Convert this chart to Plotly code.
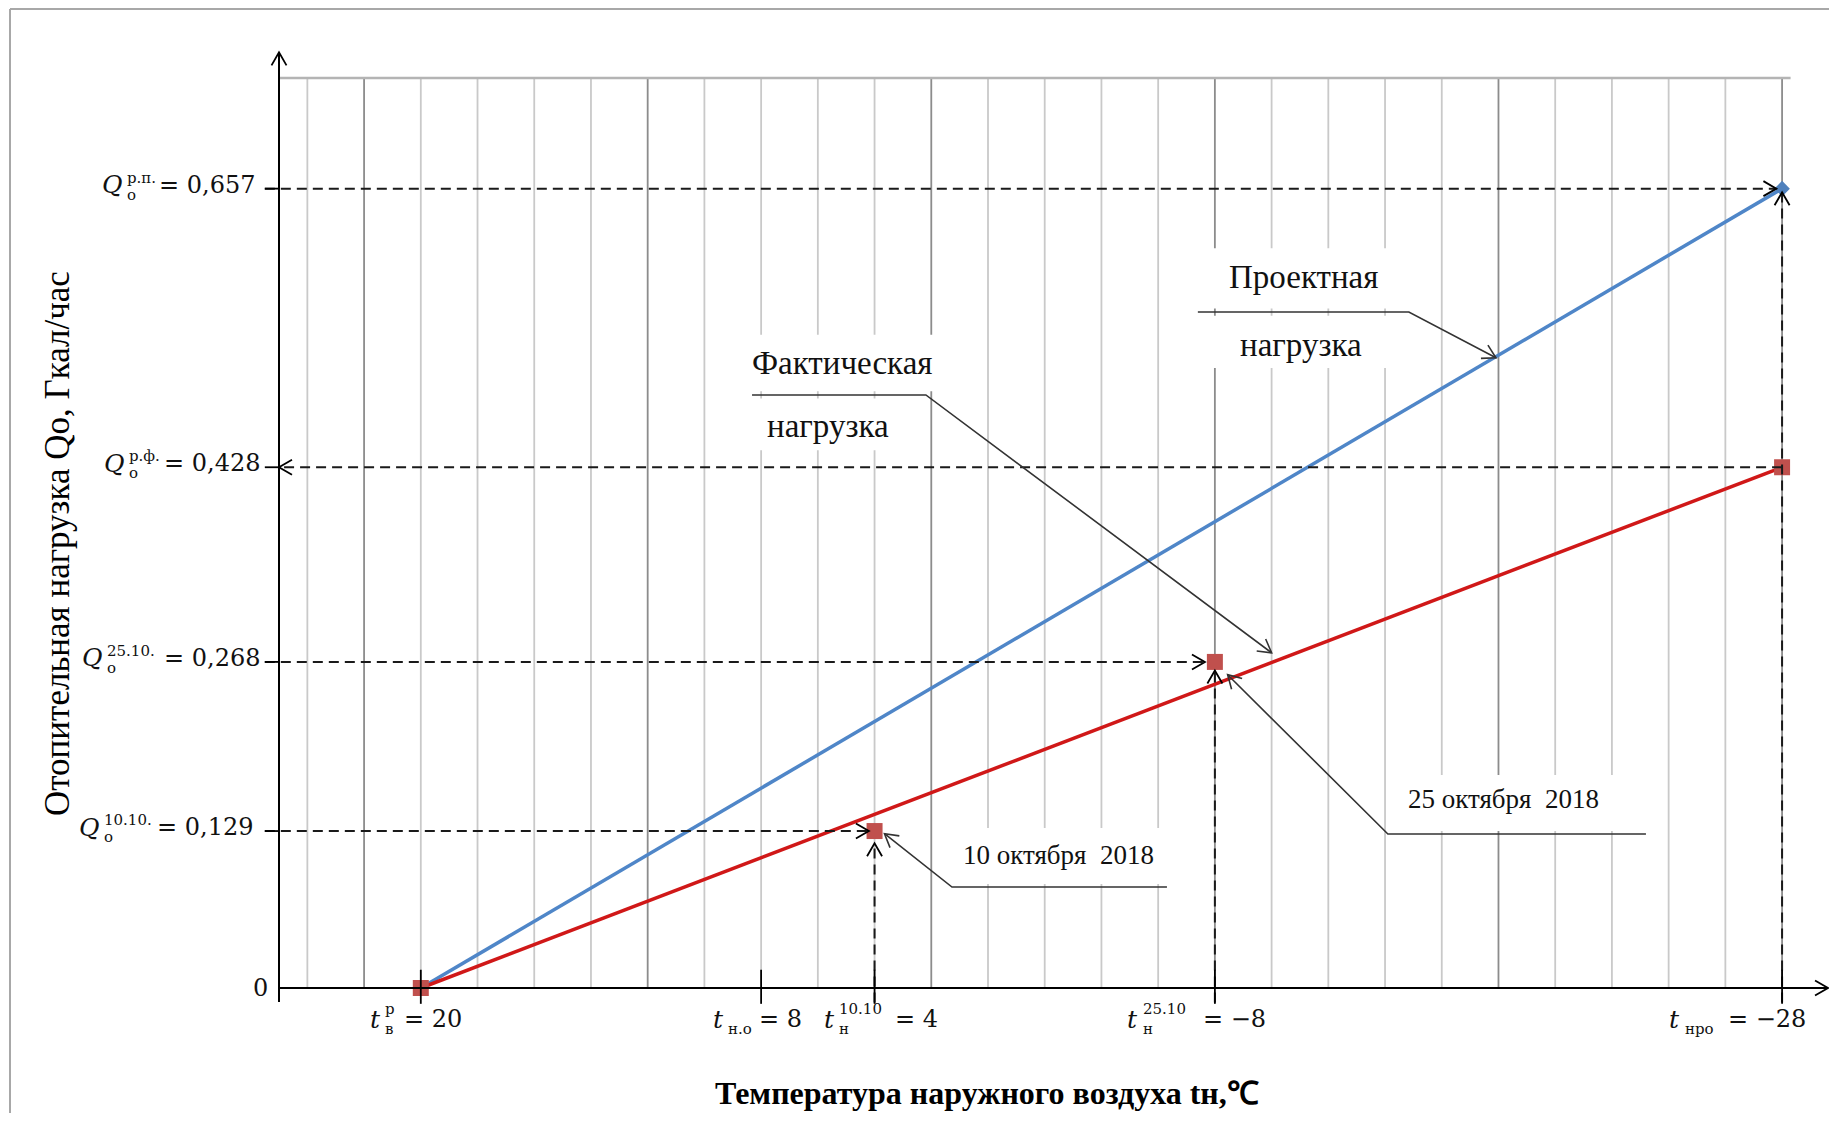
import math
import plotly.graph_objects as go

# ---------------- data ----------------
t_line = [20, -28]                      # outdoor temperature, line ends
q_project_line = [0, 0.657]             # design (project) load
q_fact_line = [0, 0.428]                # actual load

t_points = [20, 4, -8, -28]             # measured points
q_fact_points = [0, 0.129, 0.268, 0.428]
t_project_point = [-28]
q_project_point = [0.657]

x_tick_vals = [20, 8, 4, -8, -28]
x_tick_sup = ["р", "", "10.10", "25.10", ""]
x_tick_sub = ["в", "н.о", "н", "н", "нро"]
x_tick_rest = ["= 20", "= 8", "= 4", "= −8", "= −28"]

y_tick_vals = [0.657, 0.428, 0.268, 0.129]
y_tick_sup = ["р.п.", "р.ф.", "25.10.", "10.10."]
y_tick_rest = ["= 0,657", "= 0,428", "= 0,268", "= 0,129"]

grid_x = list(range(24, -30, -2))
grid_top = 0.748

# ---------------- geometry ----------------
PAGE_OFF = 8                      # default body margin of the html page
W, H = 1837 - 2 * PAGE_OFF, 1121 - 2 * PAGE_OFF
KX, KY = 28.36, 1216.7            # px per degree / px per Gcal/h
X_RANGE = [25 + (279 - PAGE_OFF) / KX, 0]
X_RANGE[1] = X_RANGE[0] - W / KX
Y_RANGE = [0, (988 - PAGE_OFF) / KY]
Y_RANGE[0] = Y_RANGE[1] - H / KY
X_AX = 25          # position of the drawn y axis
X_END = -29.62     # x-axis arrow tip
Y_END = 0.769      # y-axis arrow tip

MATH = "DejaVu Serif"
SERIF = "Liberation Serif"

def to_px(x, y):
    return (X_RANGE[0] - x) * KX, (Y_RANGE[1] - y) * KY

def from_px(px, py):
    return X_RANGE[0] - px / KX, Y_RANGE[1] - py / KY

shapes = []
annotations = []

def line(x0, y0, x1, y1, color="#000", width=2, dash=None, layer="above"):
    d = dict(type="line", x0=x0, y0=y0, x1=x1, y1=y1, xref="x", yref="y",
             line=dict(color=color, width=width), layer=layer)
    if dash:
        d["line"]["dash"] = dash
    shapes.append(d)

def polyline(pts, color="#333", width=1.6):
    path = "M " + " L ".join(f"{x},{y}" for x, y in pts)
    shapes.append(dict(type="path", path=path, xref="x", yref="y",
                       line=dict(color=color, width=width), layer="above"))

def arrowhead(tip, frm, length=15, half=30, color="#000", width=1.8):
    tx, ty = to_px(*tip)
    fx, fy = to_px(*frm)
    dx, dy = tx - fx, ty - fy
    n = math.hypot(dx, dy)
    dx, dy = dx / n, dy / n
    pts = []
    for s in (1, -1):
        a = math.radians(half) * s
        rx = dx * math.cos(a) - dy * math.sin(a)
        ry = dx * math.sin(a) + dy * math.cos(a)
        pts.append(from_px(tx - length * rx, ty - length * ry))
    path = (f"M {pts[0][0]},{pts[0][1]} L {tip[0]},{tip[1]} "
            f"L {pts[1][0]},{pts[1][1]}")
    shapes.append(dict(type="path", path=path, xref="x", yref="y",
                       line=dict(color=color, width=width), layer="above"))

def rect(x0, y0, x1, y1):
    shapes.append(dict(type="rect", x0=x0, y0=y0, x1=x1, y1=y1, xref="x", yref="y",
                       fillcolor="white", line=dict(width=0), layer="below"))

def text(x, y, s, size, family=SERIF, xanchor="center", xshift=0, yshift=0,
         angle=0, color="#111", yref="y", yanchor="middle"):
    annotations.append(dict(x=x, y=y, xref="x", yref=yref, text=s, showarrow=False,
                            font=dict(family=family, size=size, color=color),
                            xanchor=xanchor, yanchor=yanchor, xshift=xshift,
                            yshift=yshift, textangle=angle))

# ---------------- outer frame ----------------
shapes.append(dict(type="line", xref="paper", yref="paper", x0=2 / W, x1=2 / W,
                   y0=-0.01, y1=1 - 1 / H, line=dict(color="#a8a8a8", width=2)))
shapes.append(dict(type="line", xref="paper", yref="paper", x0=2 / W, x1=1.01,
                   y0=1 - 1 / H, y1=1 - 1 / H, line=dict(color="#a8a8a8", width=2)))

# ---------------- grid ----------------
for gx in grid_x:
    major = (gx - 2) % 10 == 0
    line(gx, 0, gx, grid_top, color="#8c8c8c" if major else "#c9c9c9",
         width=1.8, layer="below")
line(X_AX, grid_top, -28.3, grid_top, color="#b4b4b4", width=2.5, layer="below")

# white boxes behind the captions
rect(-7.3, 0.5585, -14.5, 0.608)
rect(-7.3, 0.5096, -14.5, 0.5525)
rect(8.6, 0.4905, 1.7, 0.537)
rect(8.6, 0.442, 3.1, 0.4845)
rect(-14.35, 0.129, -23.0, 0.175)
rect(1.5, 0.0855, -6.4, 0.1315)

# ---------------- dashed guide lines ----------------
DASH = "10px,6px"
DC = "#1a1a1a"
line(25.5, q_project_line[1], t_line[1] + 0.2, q_project_line[1], color=DC, dash=DASH)
arrowhead((t_line[1] + 0.2, q_project_line[1]), (0, q_project_line[1]))
line(t_line[1], -0.012, t_line[1], q_project_line[1] - 0.003, color=DC, dash=DASH)
arrowhead((t_line[1], q_project_line[1] - 0.003), (t_line[1], 0))

line(t_points[3], q_fact_points[3], X_AX, q_fact_points[3], color=DC, dash=DASH)
arrowhead((X_AX, q_fact_points[3]), (0, q_fact_points[3]))

line(25.5, q_fact_points[2], t_points[2] + 0.35, q_fact_points[2], color=DC, dash=DASH)
arrowhead((t_points[2] + 0.35, q_fact_points[2]), (X_AX, q_fact_points[2]))
line(t_points[2], -0.012, t_points[2], q_fact_points[2] - 0.007, color=DC, dash=DASH)
arrowhead((t_points[2], q_fact_points[2] - 0.007), (t_points[2], 0))

line(25.5, q_fact_points[1], t_points[1] + 0.2, q_fact_points[1], color=DC, dash=DASH)
arrowhead((t_points[1] + 0.2, q_fact_points[1]), (X_AX, q_fact_points[1]))
line(t_points[1], -0.012, t_points[1], q_fact_points[1] - 0.01, color=DC, dash=DASH)
arrowhead((t_points[1], q_fact_points[1] - 0.01), (t_points[1], 0))

# ---------------- axes ----------------
line(X_AX, -0.0115, X_AX, Y_END, width=2)
arrowhead((X_AX, Y_END), (X_AX, 0))
line(X_AX, 0, X_END, 0, width=2)
arrowhead((X_END, 0), (0, 0))
for v in y_tick_vals:
    line(25.5, v, X_AX, v, width=1.8)
for v in x_tick_vals:
    line(v, 0.015, v, -0.013, width=1.8)

# ---------------- leader lines ----------------
polyline([(-7.4, 0.5556), (-14.84, 0.5556), (-17.91, 0.518)])
arrowhead((-17.91, 0.518), (-14.84, 0.5556), color="#333", width=1.6)
polyline([(8.32, 0.4874), (2.19, 0.4874), (-10.0, 0.2755)])
arrowhead((-10.0, 0.2755), (2.19, 0.4874), color="#333", width=1.6)
polyline([(-23.2, 0.1266), (-14.1, 0.1266), (-8.45, 0.2575)])
arrowhead((-8.45, 0.2575), (-14.1, 0.1266), color="#333", width=1.6)
polyline([(-6.31, 0.083), (1.27, 0.083), (3.65, 0.1268)])
arrowhead((3.65, 0.1268), (1.27, 0.083), color="#333", width=1.6)

# ---------------- traces ----------------
fig = go.Figure()
fig.add_trace(go.Scatter(x=t_line, y=q_project_line, mode="lines",
                         line=dict(color="#4f86c8", width=3.5), hoverinfo="skip"))
fig.add_trace(go.Scatter(x=t_line, y=q_fact_line, mode="lines",
                         line=dict(color="#d01818", width=3.5), hoverinfo="skip"))
fig.add_trace(go.Scatter(x=t_points, y=q_fact_points, mode="markers",
                         marker=dict(symbol="square", size=16, color="#c0504d"),
                         hoverinfo="skip"))
fig.add_trace(go.Scatter(x=t_project_point, y=q_project_point, mode="markers",
                         marker=dict(symbol="diamond", size=12, color="#4f81bd"),
                         hoverinfo="skip"))

# ---------------- tick labels ----------------
q_right = [-154, -152, -174, -177]
eq_right = [-22, -17, -17, -24]
for v, sup, rest, qr, er in zip(y_tick_vals, y_tick_sup, y_tick_rest, q_right, eq_right):
    text(X_AX, v, "<i>Q</i>", 25, MATH, "right", qr, 4)
    text(X_AX, v, sup, 15, MATH, "left", qr, 11)
    text(X_AX, v, "о", 15, MATH, "left", qr, -6)
    text(X_AX, v, rest, 24, MATH, "right", er, 4)
text(X_AX, 0, "0", 24, MATH, "right", -9, 0)

t_right = [-38, -35, -38, -75, -100]
stack_left = [-38, -35, -38, -74, -99]
eq_left = [-19, -4, 18, -14, -56]
for v, sup, sub, rest, tr, sl, el in zip(x_tick_vals, x_tick_sup, x_tick_sub,
                                         x_tick_rest, t_right, stack_left, eq_left):
    text(v, 0, "<i>t</i>", 25, MATH, "right", tr, -31)
    if sup:
        text(v, 0, sup, 15, MATH, "left", sl, -21)
    text(v, 0, sub, 15, MATH, "left", sl, -41)
    text(v, 0, rest, 24, MATH, "left", el, -31)

# ---------------- captions ----------------
text(-11.11, 0.5844, "Проектная", 33)
text(-11.04, 0.5285, "нагрузка", 33)
text(5.15, 0.5137, "Фактическая", 33)
text(5.64, 0.4619, "нагрузка", 33)
text(-18.16, 0.1553, "25 октября\u00a0 2018", 27)
text(-2.47, 0.1093, "10 октября\u00a0 2018", 27)

# axis titles
text(32.83, 0.3657, "Отопительная нагрузка Qo, Гкал/час", 35, angle=-90, color="#000")
text(0.035, 0, "<b>Температура наружного воздуха tн,℃</b>", 32, color="#000",
     yref="paper", yanchor="bottom")

fig.update_layout(
    width=W, height=H, autosize=False,
    margin=dict(l=0, r=0, t=0, b=0),
    paper_bgcolor="white", plot_bgcolor="white",
    showlegend=False,
    xaxis=dict(range=X_RANGE, visible=False, fixedrange=True),
    yaxis=dict(range=Y_RANGE, visible=False, fixedrange=True),
    shapes=shapes, annotations=annotations,
)
fig.write_html("out.html")
